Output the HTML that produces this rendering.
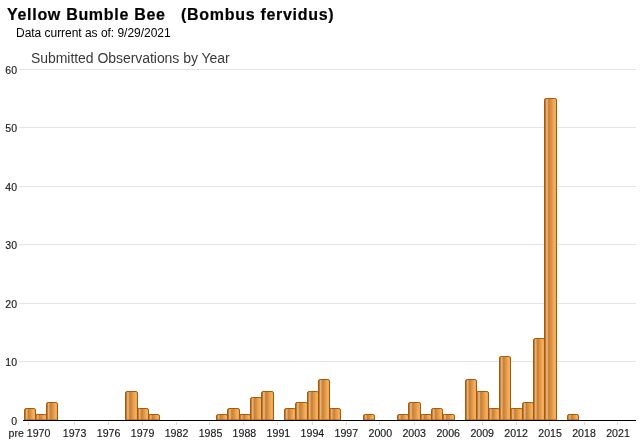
<!DOCTYPE html>
<html><head><meta charset="utf-8"><style>
html,body{margin:0;padding:0;background:#fff;width:640px;height:442px;overflow:hidden}
.t1{position:absolute;left:6.5px;top:5.5px;font:bold 16px "Liberation Sans",sans-serif;color:#000;white-space:pre;letter-spacing:0.7px;-webkit-text-stroke:0.2px #000}
.t2{position:absolute;left:16px;top:26px;font:12px "Liberation Sans",sans-serif;color:#000;white-space:pre;letter-spacing:-0.03px}
.t3{position:absolute;left:31px;top:50.2px;font:14px "Liberation Sans",sans-serif;color:#3a3a3a;white-space:pre;letter-spacing:-0.05px}
svg{position:absolute;left:0;top:0}
.t1,.t2,.t3,svg{will-change:transform}
.yl{font:10.5px "Liberation Sans",sans-serif;fill:#1a1a1a;stroke:#1a1a1a;stroke-width:0.15px}
.xl{font:10.6px "Liberation Sans",sans-serif;fill:#1a1a1a;stroke:#1a1a1a;stroke-width:0.15px}
</style></head><body>
<div class="t1">Yellow Bumble Bee   (Bombus fervidus)</div>
<div class="t2">Data current as of: 9/29/2021</div>
<svg width="640" height="442" viewBox="0 0 640 442">
<defs><linearGradient id="g" x1="0" y1="0" x2="1" y2="0">
<stop offset="0" stop-color="#b05c08"/>
<stop offset="0.07" stop-color="#c06c18"/>
<stop offset="0.16" stop-color="#dcb080"/>
<stop offset="0.23" stop-color="#dfb686"/>
<stop offset="0.31" stop-color="#d08a3c"/>
<stop offset="0.38" stop-color="#cc8030"/>
<stop offset="0.88" stop-color="#f8b466"/>
<stop offset="0.96" stop-color="#e89a48"/>
<stop offset="1" stop-color="#c06c18"/>
</linearGradient></defs>
<line x1="19" y1="361.5" x2="636" y2="361.5" stroke="#e4e4e4" stroke-width="1"/>
<line x1="19" y1="303.5" x2="636" y2="303.5" stroke="#e4e4e4" stroke-width="1"/>
<line x1="19" y1="244.5" x2="636" y2="244.5" stroke="#e4e4e4" stroke-width="1"/>
<line x1="19" y1="186.5" x2="636" y2="186.5" stroke="#e4e4e4" stroke-width="1"/>
<line x1="19" y1="127.5" x2="636" y2="127.5" stroke="#e4e4e4" stroke-width="1"/>
<line x1="19" y1="69.5" x2="636" y2="69.5" stroke="#e4e4e4" stroke-width="1"/>
<text x="17" y="424.5" text-anchor="end" class="yl">0</text>
<text x="17" y="365.5" text-anchor="end" class="yl">10</text>
<text x="17" y="307.5" text-anchor="end" class="yl">20</text>
<text x="17" y="248.5" text-anchor="end" class="yl">30</text>
<text x="17" y="190.5" text-anchor="end" class="yl">40</text>
<text x="17" y="131.5" text-anchor="end" class="yl">50</text>
<text x="17" y="73.5" text-anchor="end" class="yl">60</text>
<path d="M24.5,420 V410.1 Q24.5,408.5 26.1,408.5 H33.9 Q35.5,408.5 35.5,410.1 V420 Z" fill="url(#g)" stroke="#a95a08" stroke-width="1"/>
<path d="M35.5,420 V416.1 Q35.5,414.5 37.1,414.5 H44.9 Q46.5,414.5 46.5,416.1 V420 Z" fill="url(#g)" stroke="#a95a08" stroke-width="1"/>
<path d="M46.5,420 V404.1 Q46.5,402.5 48.1,402.5 H55.9 Q57.5,402.5 57.5,404.1 V420 Z" fill="url(#g)" stroke="#a95a08" stroke-width="1"/>
<path d="M125.5,420 V393.1 Q125.5,391.5 127.1,391.5 H135.9 Q137.5,391.5 137.5,393.1 V420 Z" fill="url(#g)" stroke="#a95a08" stroke-width="1"/>
<path d="M137.5,420 V410.1 Q137.5,408.5 139.1,408.5 H146.9 Q148.5,408.5 148.5,410.1 V420 Z" fill="url(#g)" stroke="#a95a08" stroke-width="1"/>
<path d="M148.5,420 V416.1 Q148.5,414.5 150.1,414.5 H157.9 Q159.5,414.5 159.5,416.1 V420 Z" fill="url(#g)" stroke="#a95a08" stroke-width="1"/>
<path d="M216.5,420 V416.1 Q216.5,414.5 218.1,414.5 H225.9 Q227.5,414.5 227.5,416.1 V420 Z" fill="url(#g)" stroke="#a95a08" stroke-width="1"/>
<path d="M227.5,420 V410.1 Q227.5,408.5 229.1,408.5 H237.9 Q239.5,408.5 239.5,410.1 V420 Z" fill="url(#g)" stroke="#a95a08" stroke-width="1"/>
<path d="M239.5,420 V416.1 Q239.5,414.5 241.1,414.5 H248.9 Q250.5,414.5 250.5,416.1 V420 Z" fill="url(#g)" stroke="#a95a08" stroke-width="1"/>
<path d="M250.5,420 V399.1 Q250.5,397.5 252.1,397.5 H259.9 Q261.5,397.5 261.5,399.1 V420 Z" fill="url(#g)" stroke="#a95a08" stroke-width="1"/>
<path d="M261.5,420 V393.1 Q261.5,391.5 263.1,391.5 H271.9 Q273.5,391.5 273.5,393.1 V420 Z" fill="url(#g)" stroke="#a95a08" stroke-width="1"/>
<path d="M284.5,420 V410.1 Q284.5,408.5 286.1,408.5 H293.9 Q295.5,408.5 295.5,410.1 V420 Z" fill="url(#g)" stroke="#a95a08" stroke-width="1"/>
<path d="M295.5,420 V404.1 Q295.5,402.5 297.1,402.5 H305.9 Q307.5,402.5 307.5,404.1 V420 Z" fill="url(#g)" stroke="#a95a08" stroke-width="1"/>
<path d="M307.5,420 V393.1 Q307.5,391.5 309.1,391.5 H316.9 Q318.5,391.5 318.5,393.1 V420 Z" fill="url(#g)" stroke="#a95a08" stroke-width="1"/>
<path d="M318.5,420 V381.1 Q318.5,379.5 320.1,379.5 H327.9 Q329.5,379.5 329.5,381.1 V420 Z" fill="url(#g)" stroke="#a95a08" stroke-width="1"/>
<path d="M329.5,420 V410.1 Q329.5,408.5 331.1,408.5 H338.9 Q340.5,408.5 340.5,410.1 V420 Z" fill="url(#g)" stroke="#a95a08" stroke-width="1"/>
<path d="M363.5,420 V416.1 Q363.5,414.5 365.1,414.5 H372.9 Q374.5,414.5 374.5,416.1 V420 Z" fill="url(#g)" stroke="#a95a08" stroke-width="1"/>
<path d="M397.5,420 V416.1 Q397.5,414.5 399.1,414.5 H406.9 Q408.5,414.5 408.5,416.1 V420 Z" fill="url(#g)" stroke="#a95a08" stroke-width="1"/>
<path d="M408.5,420 V404.1 Q408.5,402.5 410.1,402.5 H418.9 Q420.5,402.5 420.5,404.1 V420 Z" fill="url(#g)" stroke="#a95a08" stroke-width="1"/>
<path d="M420.5,420 V416.1 Q420.5,414.5 422.1,414.5 H429.9 Q431.5,414.5 431.5,416.1 V420 Z" fill="url(#g)" stroke="#a95a08" stroke-width="1"/>
<path d="M431.5,420 V410.1 Q431.5,408.5 433.1,408.5 H440.9 Q442.5,408.5 442.5,410.1 V420 Z" fill="url(#g)" stroke="#a95a08" stroke-width="1"/>
<path d="M442.5,420 V416.1 Q442.5,414.5 444.1,414.5 H452.9 Q454.5,414.5 454.5,416.1 V420 Z" fill="url(#g)" stroke="#a95a08" stroke-width="1"/>
<path d="M465.5,420 V381.1 Q465.5,379.5 467.1,379.5 H474.9 Q476.5,379.5 476.5,381.1 V420 Z" fill="url(#g)" stroke="#a95a08" stroke-width="1"/>
<path d="M476.5,420 V393.1 Q476.5,391.5 478.1,391.5 H486.9 Q488.5,391.5 488.5,393.1 V420 Z" fill="url(#g)" stroke="#a95a08" stroke-width="1"/>
<path d="M488.5,420 V410.1 Q488.5,408.5 490.1,408.5 H497.9 Q499.5,408.5 499.5,410.1 V420 Z" fill="url(#g)" stroke="#a95a08" stroke-width="1"/>
<path d="M499.5,420 V358.1 Q499.5,356.5 501.1,356.5 H508.9 Q510.5,356.5 510.5,358.1 V420 Z" fill="url(#g)" stroke="#a95a08" stroke-width="1"/>
<path d="M510.5,420 V410.1 Q510.5,408.5 512.1,408.5 H520.9 Q522.5,408.5 522.5,410.1 V420 Z" fill="url(#g)" stroke="#a95a08" stroke-width="1"/>
<path d="M522.5,420 V404.1 Q522.5,402.5 524.1,402.5 H531.9 Q533.5,402.5 533.5,404.1 V420 Z" fill="url(#g)" stroke="#a95a08" stroke-width="1"/>
<path d="M533.5,420 V340.1 Q533.5,338.5 535.1,338.5 H542.9 Q544.5,338.5 544.5,340.1 V420 Z" fill="url(#g)" stroke="#a95a08" stroke-width="1"/>
<path d="M544.5,420 V100.1 Q544.5,98.5 546.1,98.5 H554.9 Q556.5,98.5 556.5,100.1 V420 Z" fill="url(#g)" stroke="#a95a08" stroke-width="1"/>
<path d="M567.5,420 V416.1 Q567.5,414.5 569.1,414.5 H576.9 Q578.5,414.5 578.5,416.1 V420 Z" fill="url(#g)" stroke="#a95a08" stroke-width="1"/>
<rect x="23" y="420" width="613" height="1" fill="#000"/>
<line x1="28.5" y1="422" x2="28.5" y2="425" stroke="#d8d8d8" stroke-width="1"/>
<text x="29.4" y="437" text-anchor="middle" class="xl">pre 1970</text>
<line x1="74.5" y1="422" x2="74.5" y2="425" stroke="#d8d8d8" stroke-width="1"/>
<text x="74.6" y="437" text-anchor="middle" class="xl">1973</text>
<line x1="108.5" y1="422" x2="108.5" y2="425" stroke="#d8d8d8" stroke-width="1"/>
<text x="108.6" y="437" text-anchor="middle" class="xl">1976</text>
<line x1="142.5" y1="422" x2="142.5" y2="425" stroke="#d8d8d8" stroke-width="1"/>
<text x="142.6" y="437" text-anchor="middle" class="xl">1979</text>
<line x1="176.5" y1="422" x2="176.5" y2="425" stroke="#d8d8d8" stroke-width="1"/>
<text x="176.5" y="437" text-anchor="middle" class="xl">1982</text>
<line x1="209.5" y1="422" x2="209.5" y2="425" stroke="#d8d8d8" stroke-width="1"/>
<text x="210.5" y="437" text-anchor="middle" class="xl">1985</text>
<line x1="243.5" y1="422" x2="243.5" y2="425" stroke="#d8d8d8" stroke-width="1"/>
<text x="244.4" y="437" text-anchor="middle" class="xl">1988</text>
<line x1="277.5" y1="422" x2="277.5" y2="425" stroke="#d8d8d8" stroke-width="1"/>
<text x="278.4" y="437" text-anchor="middle" class="xl">1991</text>
<line x1="312.5" y1="422" x2="312.5" y2="425" stroke="#d8d8d8" stroke-width="1"/>
<text x="312.4" y="437" text-anchor="middle" class="xl">1994</text>
<line x1="346.5" y1="422" x2="346.5" y2="425" stroke="#d8d8d8" stroke-width="1"/>
<text x="346.3" y="437" text-anchor="middle" class="xl">1997</text>
<line x1="379.5" y1="422" x2="379.5" y2="425" stroke="#d8d8d8" stroke-width="1"/>
<text x="380.3" y="437" text-anchor="middle" class="xl">2000</text>
<line x1="414.5" y1="422" x2="414.5" y2="425" stroke="#d8d8d8" stroke-width="1"/>
<text x="414.2" y="437" text-anchor="middle" class="xl">2003</text>
<line x1="448.5" y1="422" x2="448.5" y2="425" stroke="#d8d8d8" stroke-width="1"/>
<text x="448.2" y="437" text-anchor="middle" class="xl">2006</text>
<line x1="482.5" y1="422" x2="482.5" y2="425" stroke="#d8d8d8" stroke-width="1"/>
<text x="482.2" y="437" text-anchor="middle" class="xl">2009</text>
<line x1="516.5" y1="422" x2="516.5" y2="425" stroke="#d8d8d8" stroke-width="1"/>
<text x="516.1" y="437" text-anchor="middle" class="xl">2012</text>
<line x1="549.5" y1="422" x2="549.5" y2="425" stroke="#d8d8d8" stroke-width="1"/>
<text x="550.1" y="437" text-anchor="middle" class="xl">2015</text>
<line x1="584.5" y1="422" x2="584.5" y2="425" stroke="#d8d8d8" stroke-width="1"/>
<text x="584.0" y="437" text-anchor="middle" class="xl">2018</text>
<line x1="617.5" y1="422" x2="617.5" y2="425" stroke="#d8d8d8" stroke-width="1"/>
<text x="618.0" y="437" text-anchor="middle" class="xl">2021</text>
</svg>
<div class="t3">Submitted Observations by Year</div>
</body></html>
